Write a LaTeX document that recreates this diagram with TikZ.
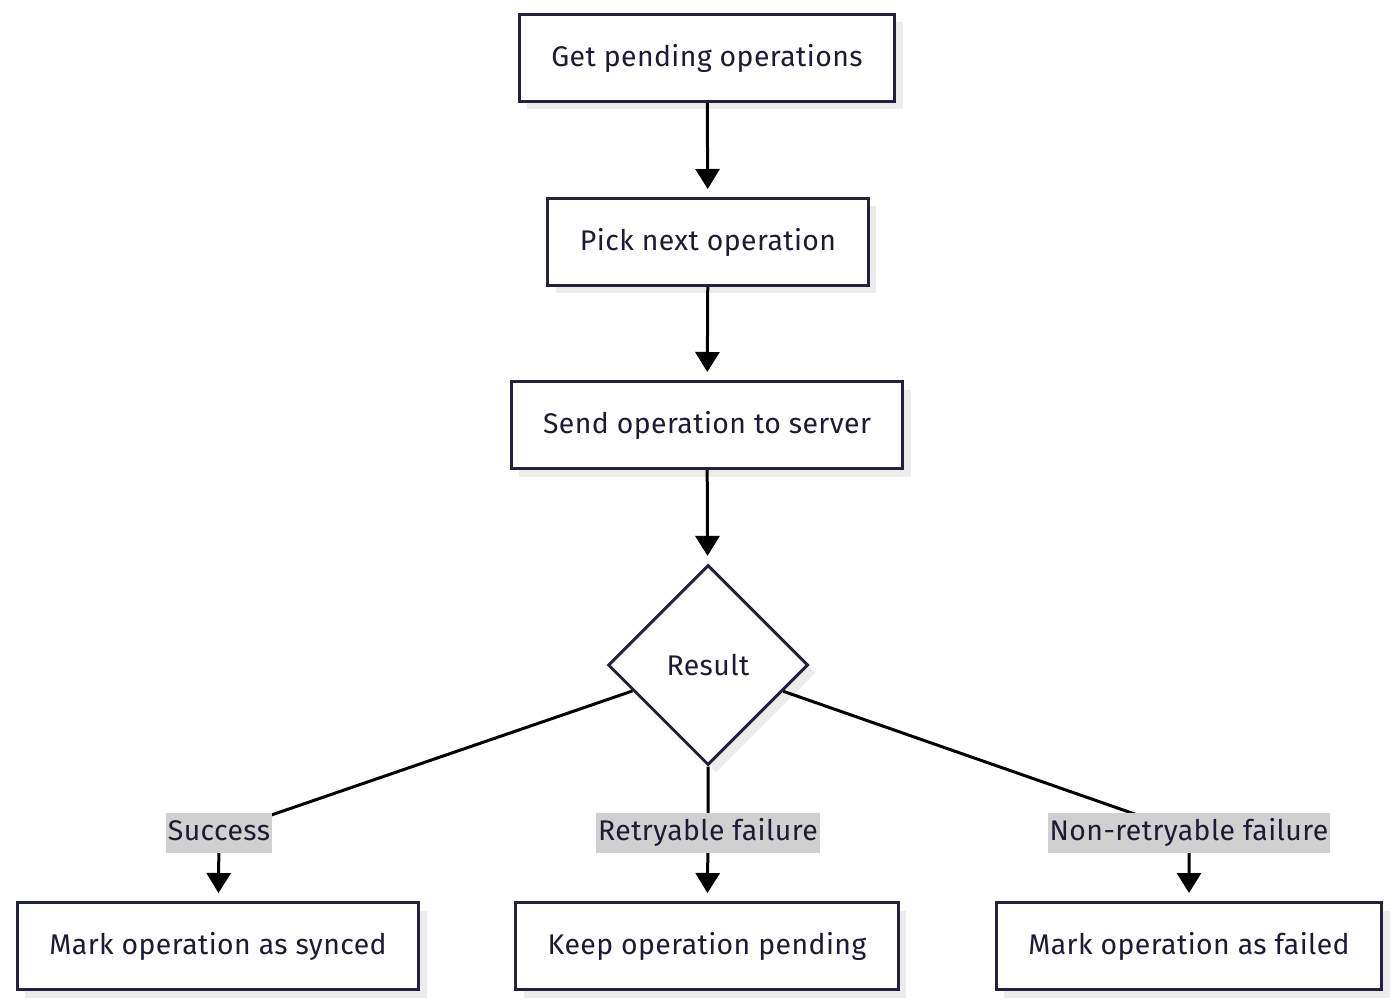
\documentclass[tikz,border=0pt]{standalone}
\usepackage{fontspec}
\setmainfont{Fira Sans}[LetterSpace=1.5]
\usetikzlibrary{arrows.meta,shapes.geometric,shadows}
\definecolor{inkc}{HTML}{1C1B36}
\definecolor{linec}{HTML}{22223E}
\definecolor{tagc}{HTML}{D0D0D0}
\definecolor{shadec}{HTML}{ECECEC}
\begin{document}
\begin{tikzpicture}[
  x=0.5pt, y=-0.5pt,
  stepbox/.style={draw=linec, line width=1.5pt, fill=white, minimum height=43.5pt,
                  inner xsep=16pt, align=center, text=inkc,
                  font=\fontsize{14.2}{16}\selectfont,
                  drop shadow={shadow xshift=4pt, shadow yshift=-4pt, fill=shadec, opacity=1}},
  decbox/.style={draw=linec, line width=1.5pt, fill=white, diamond, aspect=1,
                 minimum width=100pt, minimum height=100pt, inner sep=0pt, text=inkc,
                 font=\fontsize{14.2}{16}\selectfont,
                 drop shadow={shadow xshift=4pt, shadow yshift=-4pt, fill=shadec, opacity=1}},
  tag/.style={fill=tagc, text=inkc, inner xsep=1pt, inner ysep=3pt,
              text height=10.6pt, text depth=3.2pt,
              font=\fontsize{14.2}{16}\selectfont},
  link/.style={-{Triangle[width=12pt,length=10pt]}, line width=1.5pt, black,
               shorten >=4pt},
]
\useasboundingbox (0,0) rectangle (1400,1005);

% Main chain
\node[stepbox] (get)  at (707,58)  {Get pending operations};
\node[stepbox] (pick) at (708,242) {Pick next operation};
\node[stepbox] (send) at (707,425) {Send operation to server};
\node[decbox]  (res)  at (708,665) {Result};

% Outcomes
\node[stepbox] (sync) at (218,946)  {Mark operation as synced};
\node[stepbox] (keep) at (707,946)  {Keep operation pending};
\node[stepbox] (fail) at (1189,946) {Mark operation as failed};

\draw[link] (get) -- (pick);
\draw[link] (pick) -- (send);
\draw[link] (send) -- (res);

% Branches through the labels
\coordinate (jS) at (219,833);
\coordinate (jR) at (708,833);
\coordinate (jN) at (1189,833);
\draw[link] (res) -- (jS) -- (sync);
\draw[link] (res) -- (jR) -- (keep);
\draw[link] (res) -- (jN) -- (fail);

\node[tag] (lS) at (jS) {Success};
\node[tag] (lR) at (jR) {Retryable failure};
\node[tag] (lN) at (jN) {Non-retryable failure};

\end{tikzpicture}
\end{document}
